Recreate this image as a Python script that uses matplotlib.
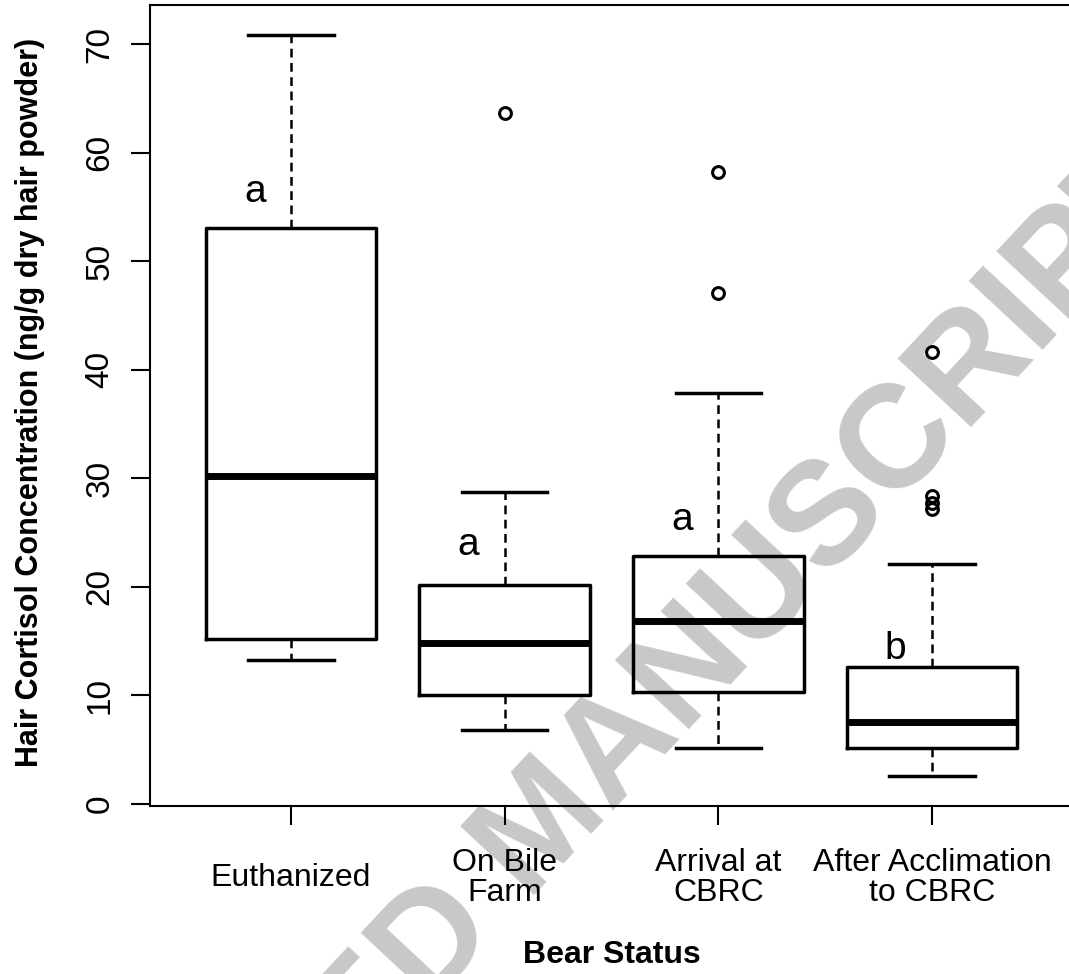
import numpy as np
import matplotlib.pyplot as plt

plt.rcParams['font.family'] = ['Liberation Sans', 'DejaVu Sans']

# Data (ng/g dry hair powder)
groups = ['Euthanized', 'On Bile\nFarm', 'Arrival at\nCBRC', 'After Acclimation\nto CBRC']
whislo = [13.2, 6.8, 5.1, 2.5]
q1 = [15.2, 10.0, 10.3, 5.1]
med = [30.2, 14.8, 16.8, 7.5]
q3 = [53.0, 20.1, 22.8, 12.6]
whishi = [70.8, 28.7, 37.8, 22.1]
fliers = [[], [63.6], [47.1, 58.2], [41.6, 28.3, 27.7, 27.1]]
letters = ['a', 'a', 'a', 'b']
letter_y = [56.4, 23.8, 26.1, 14.2]

stats = []
for i in range(len(groups)):
    stats.append(dict(whislo=whislo[i], q1=q1[i], med=med[i], q3=q3[i],
                      whishi=whishi[i], fliers=fliers[i]))

fig = plt.figure(figsize=(10.69, 9.74), dpi=100)
ax = fig.add_axes([150 / 1069, 168 / 974, 923 / 1069, 801 / 974])
ax.set_facecolor('none')

# watermark, kept under the boxes
ax.text(545 / 1069, 1 - 829 / 974, 'ACCEPTED MANUSCRIPT', rotation=47,
        fontsize=105, fontweight='bold', color='#c8c8c8', ha='center',
        va='center', rotation_mode='anchor', transform=fig.transFigure,
        clip_on=False, zorder=0)

pos = np.arange(1, len(groups) + 1)
ax.bxp(stats, positions=pos, widths=0.8, showfliers=True,
       boxprops=dict(color='black', linewidth=2.5),
       medianprops=dict(color='black', linewidth=5, solid_capstyle='butt'),
       whiskerprops=dict(color='black', linewidth=1.8, linestyle=(0, (3.5, 2.2))),
       capprops=dict(color='black', linewidth=2.5),
       capwidths=0.4,
       flierprops=dict(marker='o', markerfacecolor='none', markeredgecolor='black',
                       markersize=8.5, markeredgewidth=2.2))

for i in range(len(groups)):
    ax.text(pos[i] - 0.17, letter_y[i], letters[i], ha='center', va='center',
            fontsize=28)

ax.set_xlim(0.34, 4.66)
ax.set_ylim(-0.23, 73.6)
ax.set_yticks(np.arange(0, 71, 10))
ax.set_xticks(pos)
ax.set_xticklabels(groups, fontsize=23, linespacing=1.0)
for lab in ax.get_xticklabels():
    lab.set_va('center')
ax.tick_params(axis='x', length=14, width=1.5, pad=38)
ax.tick_params(axis='y', length=14, width=1.5, pad=22, labelsize=24,
               labelrotation=90)
for lab in ax.get_yticklabels():
    lab.set_ha('center')
    lab.set_va('center')

for sp in ax.spines.values():
    sp.set_linewidth(1.5)

ax.set_ylabel('Hair Cortisol Concentration (ng/g dry hair powder)',
              fontsize=22, fontweight='bold', va='center')
ax.yaxis.set_label_coords(-120 / 923, (806 - 402) / 801)
ax.set_xlabel('Bear Status', fontsize=23, fontweight='bold', va='center')
ax.xaxis.set_label_coords((612 - 150) / 923, (806 - 955) / 801)

fig.savefig('out.png', dpi=100)
